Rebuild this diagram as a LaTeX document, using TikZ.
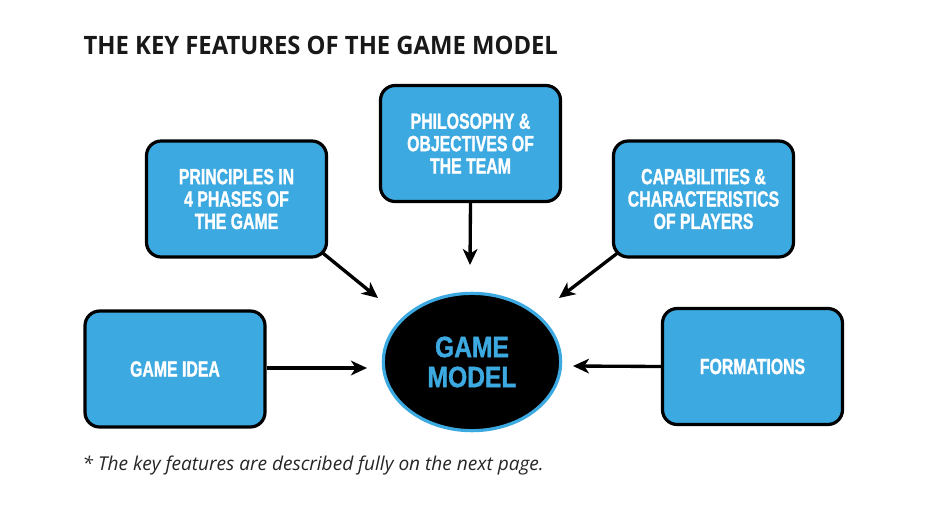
\documentclass[tikz,border=0pt]{standalone}
\usepackage{fontspec}
\setmainfont{Open Sans}
\newfontfamily\titlefont[FakeStretch=0.94]{Open Sans Bold}
\newfontfamily\boxfont[FakeStretch=0.72,FakeBold=1.2]{Liberation Sans Bold}
\newfontfamily\gmfont[FakeStretch=0.84,FakeBold=1.2]{Liberation Sans Bold}
\usetikzlibrary{arrows.meta,shapes.geometric}
\definecolor{boxblue}{HTML}{3DA9E1}
\tikzset{
  featbox/.style={draw=black, line width=2.4pt, fill=boxblue, rounded corners=11pt,
    minimum width=135pt, minimum height=87pt, align=center, text=white,
    font=\boxfont\fontsize{16.5}{16.8}\selectfont, inner sep=0pt},
  feat/.style={line width=2.5pt, -{Stealth[length=12pt,width=11pt,inset=3.5pt]}}
}
\begin{document}
\begin{tikzpicture}[x=0.75pt,y=-0.75pt]
\useasboundingbox (0,0) rectangle (936,504);
\fill[white] (0,0) rectangle (936,504);
\node[anchor=west, font=\titlefont\fontsize{19}{22}\selectfont, text=black!90] (title) at (79,45) {THE KEY FEATURES OF THE GAME MODEL};
\node[featbox] (prin) at (236.5,199) {PRINCIPLES IN\\4 PHASES OF\\THE GAME};
\node[featbox] (phil) at (470.5,143.5) {PHILOSOPHY \&\\OBJECTIVES OF\\THE TEAM};
\node[featbox] (cap) at (703.5,199) {CAPABILITIES \&\\CHARACTERISTICS\\OF PLAYERS};
\node[featbox] (idea) at (175,369) {GAME IDEA};
\node[featbox] (form) at (752.5,366.5) {FORMATIONS};
\node[ellipse, draw=boxblue, line width=2.4pt, fill=black, minimum width=133pt, minimum height=103pt,
  text=boxblue, align=center, inner sep=0pt, font=\gmfont\fontsize{22}{22.5}\selectfont] (gm) at (472,362) {GAME\\MODEL};
\coordinate (e1) at (378,298);
\coordinate (e2) at (470,265);
\coordinate (e3) at (559,298);
\coordinate (e4) at (367,368);
\coordinate (e5) at (573,366);
\draw[feat] (prin.south east) ++(-5pt,5pt) -- (e1);
\draw[feat] (phil.south) -- (e2);
\draw[feat] (cap.south west) ++(4pt,4pt) -- (e3);
\draw[feat] (idea.east) ++(0,-1) -- (e4);
\draw[feat] (form.west) -- (e5);
\node[anchor=west, font=\itshape\fontsize{14.3}{16}\selectfont, text=black!85] (note) at (78,465) {* The key features are described fully on the next page.};
\end{tikzpicture}
\end{document}
